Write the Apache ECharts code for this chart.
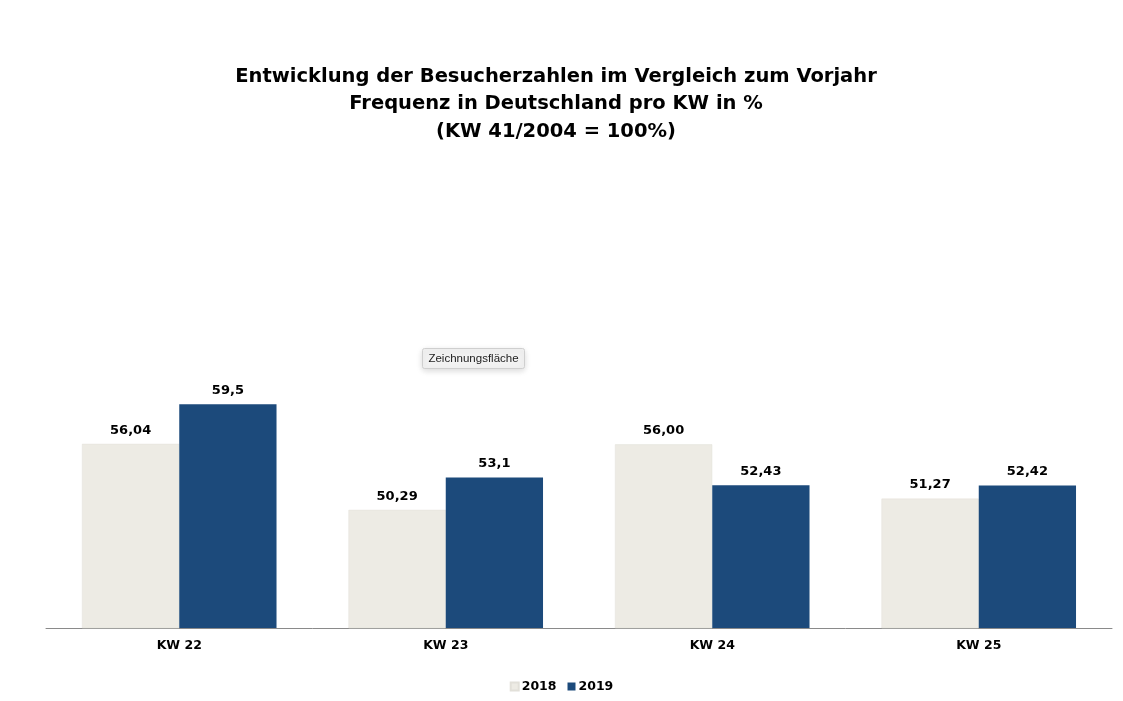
<!DOCTYPE html>
<html lang="de">
  <head>
    <meta charset="UTF-8" />
    <script src="https://cdn.jsdelivr.net/npm/echarts@6/dist/echarts.min.js"></script>
    <title>Besucherzahlen</title>
    <style>
      html, body { margin: 0; padding: 0; background: #fff; }
      #chart { width: 1123px; height: 701px; }
    </style>
  </head>
  <body>
    <div id="chart"></div>
    <script>
      // data
      const weeks = ["KW 22", "KW 23", "KW 24", "KW 25"];
      const values2018 = [56.04, 50.29, 56.00, 51.27];
      const values2019 = [59.5, 53.1, 52.43, 52.42];
      const labels2018 = ["56,04", "50,29", "56,00", "51,27"];
      const labels2019 = ["59,5", "53,1", "52,43", "52,42"];

      const myChart = echarts.init(document.getElementById("chart"));
      const font = "'DejaVu Sans', 'Liberation Sans', Arial, sans-serif";

      const labelStyle = {
        show: true,
        position: "top",
        distance: 7,
        color: "#000",
        fontWeight: "bold",
        fontSize: 13,
        fontFamily: font
      };

      const option = {
        animation: false,
        title: {
          text: "Entwicklung der Besucherzahlen im Vergleich zum Vorjahr\nFrequenz in Deutschland pro KW in %\n(KW 41/2004 = 100%)",
          left: 551,
          top: 58,
          textAlign: "center",
          textStyle: {
            fontFamily: font,
            fontWeight: "bold",
            fontSize: 19.5,
            lineHeight: 27.5,
            color: "#000"
          }
        },
        legend: {
          data: ["2018", "2019"],
          left: "center",
          top: 675,
          itemWidth: 8,
          itemHeight: 8,
          itemGap: 11,
          icon: "rect",
          textStyle: {
            fontFamily: font,
            fontWeight: "bold",
            fontSize: 12.5,
            color: "#000",
            padding: [0, 0, 0, -2]
          }
        },
        grid: {
          left: 46,
          right: 11,
          top: 341,
          bottom: 73
        },
        xAxis: {
          type: "category",
          data: weeks,
          axisLine: { lineStyle: { color: "#8a8a8a", width: 1 } },
          axisTick: { show: false },
          axisLabel: {
            margin: 11,
            color: "#000",
            fontWeight: "bold",
            fontSize: 12.5,
            fontFamily: font
          }
        },
        yAxis: {
          type: "value",
          min: 40,
          max: 65,
          interval: 5,
          show: false
        },
        series: [
          {
            name: "2018",
            type: "bar",
            data: values2018,
            barGap: "0%",
            barCategoryGap: "27%",
            itemStyle: { color: "#edebe4", borderColor: "#e2e0d9", borderWidth: 0.5 },
            label: Object.assign({}, labelStyle, {
              formatter: (p) => labels2018[p.dataIndex]
            })
          },
          {
            name: "2019",
            type: "bar",
            data: values2019,
            itemStyle: { color: "#1c4a7b" },
            label: Object.assign({}, labelStyle, {
              formatter: (p) => labels2019[p.dataIndex]
            })
          }
        ],
        graphic: [
          {
            type: "group",
            left: 422,
            top: 348,
            children: [
              {
                type: "rect",
                shape: { x: 0, y: 0, width: 102, height: 20, r: 2 },
                style: {
                  fill: "#f2f2f2",
                  stroke: "#cfcfcf",
                  lineWidth: 1,
                  shadowBlur: 6,
                  shadowColor: "rgba(0,0,0,0.15)",
                  shadowOffsetY: 2
                }
              },
              {
                type: "text",
                x: 51,
                y: 10,
                style: {
                  text: "Zeichnungsfläche",
                  fill: "#222",
                  font: "11.5px 'Liberation Sans', Arial, sans-serif",
                  align: "center",
                  verticalAlign: "middle"
                }
              }
            ]
          }
        ]
      };
      myChart.setOption(option);
    </script>
  </body>
</html>
